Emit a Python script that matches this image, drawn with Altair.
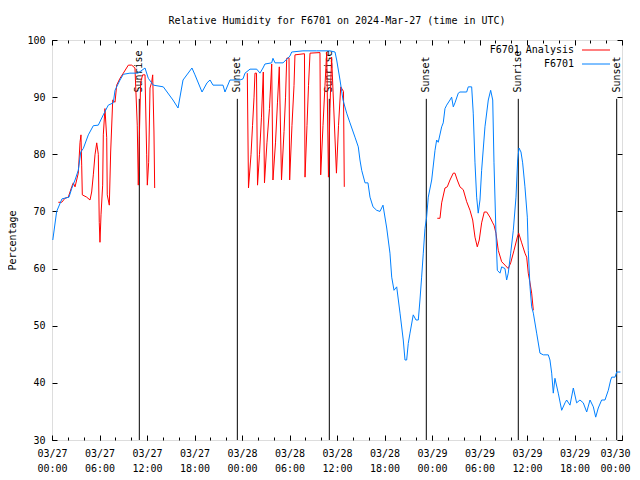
import altair as alt
import pandas as pd

# time = hours since 2024-03-27 00:00 UTC
blue_hours = [0.1, 0.59, 1.26, 2.15, 2.49, 2.91, 3.32, 3.63, 3.95, 4.59, 5.22, 5.85, 6.48, 7.11, 7.74, 7.96,
              8.59, 9.01, 9.85, 10.86, 11.75, 12.16, 12.8, 14.06, 15.28, 15.92, 16.55, 17.68, 18.06, 18.95,
              19.58, 19.96, 20.34, 21.6, 21.85, 22.48, 23.75, 24.13, 24.38, 25.01, 25.86, 26.27, 26.65, 26.9,
              27.75, 27.91, 28.17, 29.18, 30.06, 30.28, 31.7, 33.43, 35.11, 35.75, 35.96, 36.38, 36.76, 37.22,
              37.64, 38.27, 38.69, 38.9, 39.12, 39.54, 39.91, 40.17, 40.55, 41.01, 41.43, 41.81, 42.28, 42.69,
              42.91, 43.2, 43.54, 43.96, 44.37, 44.59, 44.8, 45.0, 45.22, 45.63, 45.98, 46.27, 46.48, 46.69,
              46.9, 47.11, 47.32, 47.53, 47.96, 48.38, 48.59, 48.79, 49.22, 49.42, 49.64, 49.85, 50.27, 50.48,
              50.69, 50.9, 51.32, 51.53, 52.38, 52.58, 53.01, 53.21, 53.43, 53.64, 53.84, 54.06, 54.27, 54.69,
              55.11, 55.41, 55.67, 55.83, 56.08, 56.25, 56.59, 56.8, 57.22, 57.43, 57.63, 57.94, 58.27, 58.61,
              58.82, 58.99, 59.24, 59.45, 59.74, 60.04, 60.16, 60.38, 60.59, 60.8, 61.22, 61.64, 62.06, 62.69,
              62.9, 63.12, 63.32, 63.53, 63.95, 64.38, 64.8, 65.01, 65.43, 65.85, 66.27, 66.69, 67.11, 67.54,
              67.96, 68.38, 68.68, 69.0, 69.43, 69.85, 70.27, 70.57, 70.7, 71.12, 71.33, 71.8]
blue_values = [65, 70, 72.2, 72.5, 74, 75.5, 77.2, 80.4, 81, 83.4, 85, 85.1, 86.9, 88.6, 89, 91.2,
               93, 94, 94.2, 94.2, 95.1, 93.3, 92.1, 91.8, 89.5, 88.1, 93, 95.1, 93.9, 90.9,
               92.5, 93, 92.1, 92.1, 90.9, 93, 93, 93.2, 94.2, 94.9, 94.9, 94.2, 95.1, 95.8,
               96, 96.8, 96, 96, 97.2, 97.9, 98.1, 98.1, 98.1, 97.9, 96.5, 93, 89.5, 87.2,
               85.5, 83, 81.3, 79, 77.2, 75, 75, 72.5, 70.8, 70.2, 70, 71.1, 67.1, 62.7,
               58.5, 56.2, 56.8, 52.2, 47.5, 44, 44, 46.9, 48.7, 51.9, 51, 51, 54.5, 58.5,
               62.7, 67, 69, 72.5, 75.5, 80.7, 82.5, 82.1, 84.8, 85.5, 88, 88.6, 89.5, 90,
               88.3, 89, 90.7, 90.9, 90.9, 91.8, 91.8, 87.2, 78.5, 72.5, 69.7, 72, 77.2, 84.8,
               89.5, 91.2, 89.5, 78.5, 66.2, 59.7, 59.2, 60.3, 60, 58, 59.2, 62.7, 66.7, 72.5,
               79, 81.1, 80.4, 78.5, 74.3, 69, 63.2, 56.8, 53.3, 52.2, 48.7, 45.2, 44.9, 44.9,
               44, 41.7, 38.2, 40.8, 38.2, 35.2, 36.5, 37, 36.1, 39.1, 36.5, 37, 36.5, 34.9,
               37, 35.8, 34, 35.6, 37, 37, 38.7, 40.5, 41, 41, 41.9, 41.9]

red_seg1_hours = [0.8, 1.23, 1.64, 2.06, 2.49, 2.69, 2.91, 3.32, 3.54, 3.66, 3.75, 3.83, 4.38, 4.8, 5.01, 5.22,
                  5.43, 5.65, 5.85, 5.97, 6.06, 6.19, 6.4, 6.48, 6.69, 6.91, 6.98, 7.24, 7.41, 7.67, 7.96, 8.17,
                  8.59, 9.01, 9.64, 10.07, 10.48, 10.77, 10.9, 11.03, 11.2, 11.45, 11.75, 11.96, 12.04, 12.21,
                  12.38, 12.59, 12.72, 12.88, 12.97]
red_seg1_values = [71.6, 71.6, 72.3, 72.5, 74.3, 75, 74.3, 76.7, 82.1, 83.4, 78.1, 72.9, 72.5, 72, 73.4, 76.4,
                   79.9, 82, 80, 68.1, 64.6, 69.4, 74.6, 83.4, 88, 82.9, 72.9, 71.1, 80.4, 89.5, 89.1, 92.1,
                   93.3, 94.2, 95.6, 95.6, 95.1, 85.1, 74.6, 82.9, 92.6, 93.9, 93.9, 79.9, 74.6, 78.6,
                   91.6, 92.6, 93.9, 83.9, 74.1]
red_seg2_hours = [24.67, 24.82, 25.14, 25.33, 25.52, 25.64, 25.83, 25.96, 26.21, 26.46, 26.69, 26.84,
                  27.15, 27.47, 27.75, 27.91, 28.23, 28.48, 28.71, 28.99, 29.31, 29.5, 29.65, 29.94,
                  30.02, 30.31, 30.57, 30.69, 31.89, 31.96, 32.21, 32.4, 32.59, 33.85, 33.94, 34.23,
                  34.48, 34.7, 34.92, 35.11, 35.32, 35.93, 36.19, 36.47, 36.82, 36.92]
red_seg2_values = [94.2, 74.1, 80, 85, 90, 94.2, 94.2, 74.6, 80, 86.5, 94.4, 75,
                   82, 88, 95.8, 75.5, 82, 89, 95.3, 75.5, 84, 90, 96.8, 96.9,
                   75.5, 85, 92, 97.4, 97.6, 76, 85, 92, 97.7, 97.8, 76.4, 85,
                   92, 97.9, 76, 88, 97, 76.7, 85, 91.8, 91, 74.3]
red_seg3_hours = [48.67, 49.01, 49.22, 49.64, 49.93, 50.27, 50.69, 50.9, 51.19, 51.53, 51.95, 52.38, 52.8, 53.14,
                  53.43, 53.72, 53.97, 54.27, 54.6, 54.91, 55.32, 55.67, 55.83, 56.08, 56.37, 56.8, 57.22, 57.63,
                  57.94, 58.36, 58.78, 58.95, 59.33, 59.74, 59.96, 60.16, 60.38, 60.59, 60.8]
red_seg3_values = [68.8, 68.8, 71.5, 74.1, 74.3, 75.5, 76.7, 76.7, 75.5, 74.3, 73.8, 71.7, 70.2, 68.5,
                   65.5, 63.8, 65, 68, 69.9, 69.9, 69, 68, 67.6, 66.2, 63.2, 61.2, 60.6, 60,
                   61, 63.2, 65.5, 66.2, 64.5, 62.7, 62, 59.2, 57.5, 55.7, 52.7]

sun_hours = [11.03, 23.41, 35.03, 47.28, 58.9, 71.33]
sun_labels = ["Sunrise", "Sunset", "Sunrise", "Sunset", "Sunrise", "Sunset"]
sun_low = [30] * 6
sun_high = [89.7] * 6
sun_label_at = [90.8] * 6

major_ticks = list(range(0, 73, 6))
minor_ticks = list(range(0, 73, 2))
y_ticks = list(range(30, 101, 10))

FONT = "DejaVu Sans Mono"

blue_df = pd.DataFrame({"hour": blue_hours, "rh": blue_values})
red_df = pd.DataFrame({
    "hour": red_seg1_hours + red_seg2_hours + red_seg3_hours,
    "rh": red_seg1_values + red_seg2_values + red_seg3_values,
    "seg": [1] * len(red_seg1_hours) + [2] * len(red_seg2_hours) + [3] * len(red_seg3_hours),
})
sun_df = pd.DataFrame({"hour": sun_hours, "label": sun_labels, "low": sun_low,
                       "high": sun_high, "label_at": sun_label_at})

xscale = alt.Scale(domain=[0, 72], nice=False, zero=False)
yscale = alt.Scale(domain=[30, 100], nice=False, zero=False)


def ax(**kw):
    base = dict(grid=False, domain=False, tickColor="black", labelColor="black",
                labelFont=FONT, labelFontSize=10, titleFont=FONT, titleFontSize=10,
                titleColor="black", titleFontWeight="normal")
    base.update(kw)
    return alt.Axis(**base)


date_label = ("['03/' + format(27 + floor(datum.value / 24), '02d'), "
              "format(datum.value % 24, '02d') + ':00']")
label_expr = "datum.value >= 72 ? '' : " + date_label

sun_rules = alt.Chart(sun_df).mark_rule(color="black", strokeWidth=1).encode(
    x=alt.X("hour:Q", scale=xscale, title=None,
            axis=ax(orient="bottom", values=minor_ticks, tickSize=3, offset=-3, labels=False)),
    y=alt.Y("low:Q", scale=yscale, axis=None),
    y2="high:Q",
)

sun_text = alt.Chart(sun_df).mark_text(angle=270, align="left", baseline="middle",
                                        font=FONT, fontSize=10, color="black").encode(
    x=alt.X("hour:Q", scale=xscale, title=None,
            axis=ax(orient="top", values=minor_ticks, tickSize=3, offset=-3, labels=False)),
    y=alt.Y("label_at:Q", scale=yscale, axis=None),
    text="label:N",
)

red = alt.Chart(red_df).mark_line(color="#ff0000", strokeWidth=1).encode(
    x=alt.X("hour:Q", scale=xscale, title=None,
            axis=ax(orient="top", values=major_ticks, tickSize=5, offset=-5, labels=False)),
    y=alt.Y("rh:Q", scale=yscale, title=None,
            axis=ax(orient="right", values=y_ticks, tickSize=5, offset=-5, labels=False)),
    detail="seg:N",
)

blue = alt.Chart(blue_df).mark_line(color="#0080ff", strokeWidth=1).encode(
    x=alt.X("hour:Q", scale=xscale, title=None,
            axis=ax(orient="bottom", values=major_ticks, tickSize=5, offset=-5,
                    labelExpr=label_expr, labelPadding=8, labelLineHeight=15,
                    labelAngle=0, labelOverlap=False, labelFlush=False)),
    y=alt.Y("rh:Q", scale=yscale, title="Percentage",
            axis=ax(orient="left", values=y_ticks, tickSize=5, offset=-5, labelPadding=7,
                    labelOverlap=False, titleX=-45, titleY=200, titleAngle=270,
                    titleBaseline="middle", titleAlign="center")),
)

# extra axis carrying only the last date label, nudged left so it stays on the canvas
edge_label = alt.Chart(blue_df).mark_point(opacity=0).encode(
    x=alt.X("hour:Q", scale=xscale, title=None,
            axis=ax(orient="bottom", values=[72], tickSize=5, offset=-5, tickOpacity=0,
                    position=-7, labelExpr=date_label, labelPadding=8, labelLineHeight=15,
                    labelAngle=0, labelOverlap=False, labelFlush=False, labelBound=False)),
    y=alt.Y("rh:Q", scale=yscale, axis=None),
)

one = pd.DataFrame({"k": [0]})
leg_text1 = alt.Chart(one).mark_text(align="right", baseline="middle", font=FONT, fontSize=10,
                                      color="black").encode(
    x=alt.value(522), y=alt.value(10), text=alt.value("F6701 Analysis"))
leg_line1 = alt.Chart(one).mark_rule(color="#ff0000", strokeWidth=1).encode(
    x=alt.value(530), x2=alt.value(558), y=alt.value(10))
leg_text2 = alt.Chart(one).mark_text(align="right", baseline="middle", font=FONT, fontSize=10,
                                      color="black").encode(
    x=alt.value(522), y=alt.value(24), text=alt.value("F6701"))
leg_line2 = alt.Chart(one).mark_rule(color="#0080ff", strokeWidth=1).encode(
    x=alt.value(530), x2=alt.value(558), y=alt.value(24))

chart = alt.layer(
    sun_rules, sun_text, red, blue, edge_label, leg_text1, leg_line1, leg_text2, leg_line2
).resolve_axis(
    x="independent", y="independent"
).properties(
    width=570, height=400,
    title=alt.TitleParams("Relative Humidity for F6701 on 2024-Mar-27 (time in UTC)",
                          font=FONT, fontSize=10, fontWeight="normal", color="black",
                          anchor="middle", offset=9),
    autosize=alt.AutoSizeParams(type="none"),
    padding={"left": 44, "top": 32, "right": 10, "bottom": 32},
).configure_view(
    stroke="black", strokeWidth=1
).configure(background="white")

chart.save("out.html", embed_options={"renderer": "svg", "actions": False})
